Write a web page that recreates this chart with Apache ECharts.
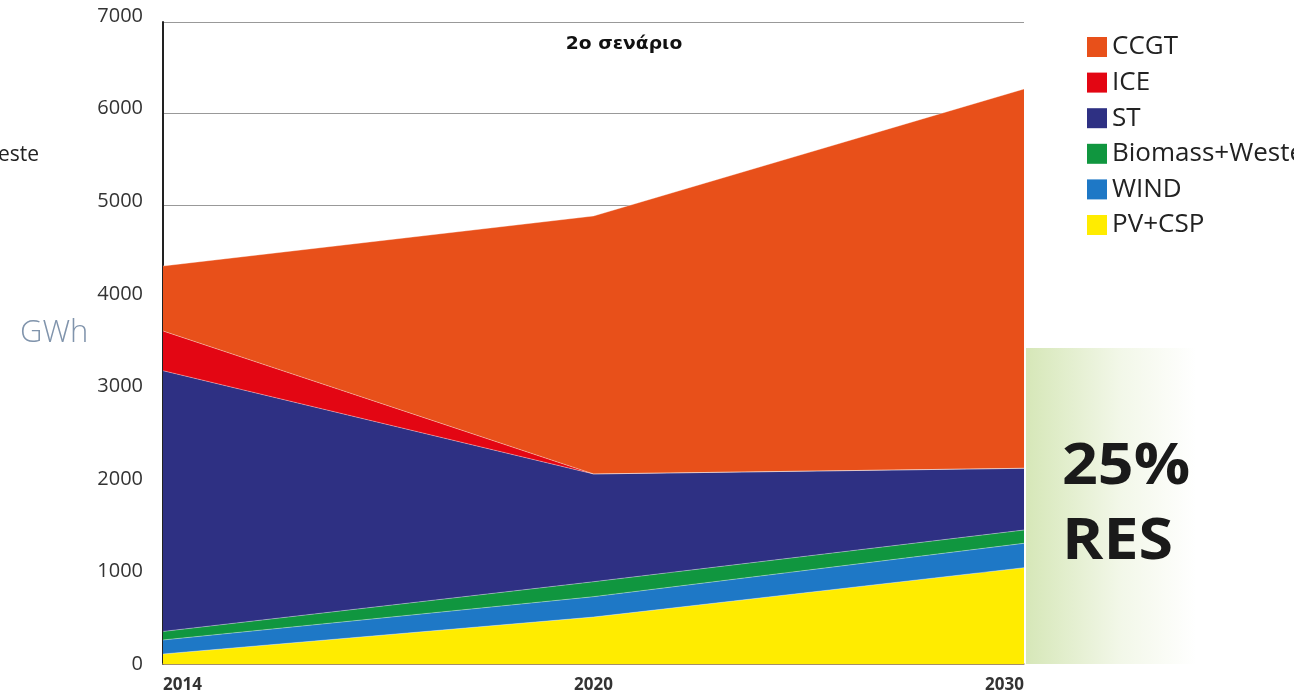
<!DOCTYPE html>
<html>
<head>
<meta charset="utf-8">
<script src="https://cdn.jsdelivr.net/npm/echarts@6/dist/echarts.min.js"></script>
<style>html,body{margin:0;padding:0;background:#fff;}#c{width:1294px;height:694px;}</style>
</head>
<body>
<div id="c"></div>
<script>
var years = ['2014', '2020', '2030'];
var yTicks = [0, 1000, 2000, 3000, 4000, 5000, 6000, 7000];
var pvCsp = [109, 512, 1050];
var wind = [153, 222, 266];
var biomass = [93, 163, 145];
var st = [2843, 1175, 673];
var ice = [433, 0, 0];
var ccgt = [709, 2813, 4136];

var names = ['CCGT', 'ICE', 'ST', 'Biomass+Weste', 'WIND', 'PV+CSP'];
var colors = {
  'CCGT': '#e8501a', 'ICE': '#e30613', 'ST': '#2e3083',
  'Biomass+Weste': '#10963f', 'WIND': '#1e78c6', 'PV+CSP': '#ffec00'
};
var stackOrder = [['PV+CSP', pvCsp], ['WIND', wind], ['Biomass+Weste', biomass], ['ST', st], ['ICE', ice], ['CCGT', ccgt]];

var series = stackOrder.map(function (s) {
  return {
    name: s[0], type: 'line', stack: 'total', data: s[1],
    symbol: 'none', smooth: false,
    lineStyle: { width: 0.8, color: 'rgba(255,255,255,0.45)' },
    areaStyle: { color: colors[s[0]], opacity: 1 },
    itemStyle: { color: colors[s[0]] }
  };
});

// tick labels drift slightly upward in the reference
var rich = {};
yTicks.forEach(function (t, i) {
  rich['t' + i] = { fontSize: 20, color: '#333', fontFamily: 'Open Sans', padding: [0, 0, Math.round(i * 1.6), 0] };
});

var chart = echarts.init(document.getElementById('c'));
chart.setOption({
  animation: false,
  textStyle: { fontFamily: 'Open Sans' },
  grid: { left: 163, right: 270, top: 22, bottom: 30, containLabel: false },
  legend: {
    data: names, orient: 'vertical', left: 1082, top: 29,
    icon: 'rect', itemWidth: 20, itemHeight: 20, itemGap: 9.6,
    textStyle: { fontSize: 26, color: '#222', fontFamily: 'Open Sans', padding: [0, 0, 0, 0] }
  },
  xAxis: {
    type: 'category', data: years, boundaryGap: false,
    axisLine: { lineStyle: { color: '#a88c5c', width: 1.5 } },
    axisTick: { show: false },
    axisLabel: { fontSize: 17, fontWeight: 'bold', color: '#333', margin: 13, alignMinLabel: 'left', alignMaxLabel: 'right' },
    splitLine: { show: false }
  },
  yAxis: {
    type: 'value', min: yTicks[0], max: yTicks[yTicks.length - 1], interval: 1000,
    axisLine: { show: true, lineStyle: { color: '#222', width: 2 } },
    axisTick: { show: false },
    axisLabel: { margin: 20, rich: rich,
      formatter: function (v) { return '{t' + yTicks.indexOf(v) + '|' + v + '}'; } },
    splitLine: { lineStyle: { color: '#999', width: 1.2 } }
  },
  graphic: [
    { type: 'rect', left: 1026, top: 348, shape: { width: 170, height: 316 },
      style: { fill: new echarts.graphic.LinearGradient(0, 0, 1, 0, [
        { offset: 0, color: '#d6e7b8' }, { offset: 0.55, color: '#f2f7e8' }, { offset: 1, color: '#ffffff' }]) }, z: -1 },
    { type: 'text', x: 1062, y: 468, scaleX: 1.1,
      style: { text: '25%', font: 'bold 57px "Open Sans"', fill: '#1a1a1a', verticalAlign: 'middle' } },
    { type: 'text', x: 1062, y: 543, scaleX: 1.1,
      style: { text: 'RES', font: 'bold 57px "Open Sans"', fill: '#1a1a1a', verticalAlign: 'middle' } },
    { type: 'text', x: 624, y: 45, scaleX: 1.1,
      style: { text: '2ο σενάριο', font: 'bold 17px "DejaVu Sans"', fill: '#111', align: 'center', verticalAlign: 'middle' } },
    { type: 'text', x: 20, y: 333,
      style: { text: 'GWh', font: '300 31px "Open Sans"', fill: '#8094ac', verticalAlign: 'middle' } },
    { type: 'text', x: -2, y: 155,
      style: { text: 'este', font: '21px "Open Sans"', fill: '#222', verticalAlign: 'middle' } }
  ],
  series: series
});
</script>
</body>
</html>
